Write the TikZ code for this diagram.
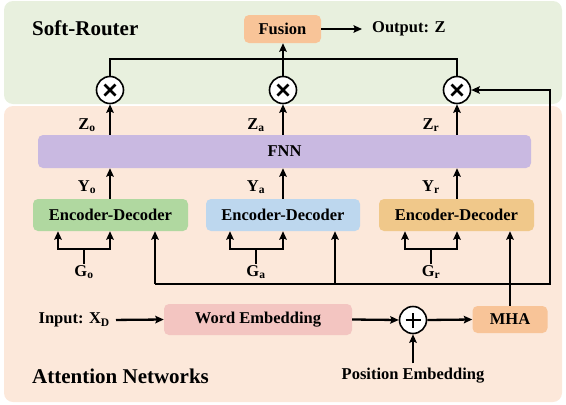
\documentclass[tikz,border=0pt]{standalone}
\usepackage{fontspec}
\setmainfont{Liberation Serif}[BoldFont={Liberation Serif Bold}]
\newfontfamily\tnr{Liberation Serif}[BoldFont={Liberation Serif Bold}]
\usetikzlibrary{arrows.meta}
\definecolor{bgG}{RGB}{232,240,222}
\definecolor{bgO}{RGB}{252,232,218}
\definecolor{peach}{RGB}{248,196,152}
\definecolor{fnnC}{RGB}{201,185,225}
\definecolor{encG}{RGB}{176,216,160}
\definecolor{encB}{RGB}{189,215,238}
\definecolor{encO}{RGB}{240,200,138}
\definecolor{weC}{RGB}{243,197,193}
\begin{document}
\begin{tikzpicture}[x=1pt,y=-1pt, font=\tnr\fontsize{16.5}{19}\selectfont\bfseries,
 box/.style={rounded corners=5pt, inner sep=0pt},
 tip/.tip={Stealth[length=8.5pt,width=7.5pt,inset=1.5pt]},
 arr/.style={line width=2.3pt, -tip},
 darr/.style={line width=2.3pt, tip-tip, line join=miter},
 ln/.style={line width=2.3pt, line join=miter},
 lbl/.style={inner sep=1pt},
 title/.style={font=\tnr\fontsize{21}{24}\selectfont\bfseries, anchor=west, inner sep=0pt},
 mult/.style={circle, draw, fill=white, line width=1.6pt, minimum size=27pt, inner sep=0pt,
   path picture={\draw[line width=2.7pt]
     ([shift={(-5.5pt,-5.5pt)}]path picture bounding box.center) -- ([shift={(5.5pt,5.5pt)}]path picture bounding box.center)
     ([shift={(-5.5pt,5.5pt)}]path picture bounding box.center) -- ([shift={(5.5pt,-5.5pt)}]path picture bounding box.center);}},
 plusc/.style={circle, draw, fill=white, line width=1.6pt, minimum size=27pt, inner sep=0pt,
   path picture={\draw[line width=2.7pt]
     ([shift={(-7.5pt,0pt)}]path picture bounding box.center) -- ([shift={(7.5pt,0pt)}]path picture bounding box.center)
     ([shift={(0pt,-7.5pt)}]path picture bounding box.center) -- ([shift={(0pt,7.5pt)}]path picture bounding box.center);}}]
\useasboundingbox (0,0) rectangle (566,405);
% backgrounds
\fill[bgG, rounded corners=9pt] (4,1) rectangle (562,104);
\fill[bgO, rounded corners=9pt] (4,106) rectangle (562,402);
% titles
\node[title] (sr) at (32,28) {Soft-Router};
\node[title] (an) at (32,376) {Attention Networks};
% top
\node[box, fill=peach, minimum width=77pt, minimum height=28pt] (fusion) at (282.5,29) {Fusion};
\node[anchor=west, inner sep=0pt] (out) at (372,29) {Output: Z};
\draw[arr, shorten >=10pt] (fusion.east) -- (out.west);
\node[mult] (c1) at (110,90) {};
\node[mult] (c2) at (283,90) {};
\node[mult] (c3) at (457,90) {};
\coordinate (top) at (0,59);
\draw[ln] (c1.north) -- (c1.north |- top) -- (c3.north |- top) -- (c3.north);
\draw[arr] (c2.north) -- (c2.north |- fusion.south);
% FNN
\node[box, fill=fnnC, minimum width=493pt, minimum height=33pt] (fnn) at (284.5,151.5) {FNN};
\draw[arr] (fnn.north -| c1) -- (c1.south);
\draw[arr] (fnn.north -| c2) -- (c2.south);
\draw[arr] (fnn.north -| c3) -- (c3.south);
\node[lbl] (z1) at (87,125) {Z\textsubscript{o}};
\node[lbl] (z2) at (256,125) {Z\textsubscript{a}};
\node[lbl] (z3) at (431,125) {Z\textsubscript{r}};
% encoders
\node[box, fill=encG, minimum width=155pt, minimum height=32pt] (e1) at (110.5,215) {Encoder-Decoder};
\node[box, fill=encB, minimum width=154pt, minimum height=32pt] (e2) at (283,215) {Encoder-Decoder};
\node[box, fill=encO, minimum width=155pt, minimum height=32pt] (e3) at (456.5,215) {Encoder-Decoder};
\draw[arr] (e1.north -| c1) -- (fnn.south -| c1);
\draw[arr] (e2.north -| c2) -- (fnn.south -| c2);
\draw[arr] (e3.north -| c3) -- (fnn.south -| c3);
\node[lbl] (y1) at (87,187) {Y\textsubscript{o}};
\node[lbl] (y2) at (256,187) {Y\textsubscript{a}};
\node[lbl] (y3) at (431,187) {Y\textsubscript{r}};
% forks
\node[lbl] (g1) at (84,272) {G\textsubscript{o}};
\node[lbl] (g2) at (256,272) {G\textsubscript{a}};
\node[lbl] (g3) at (431,272) {G\textsubscript{r}};
\coordinate (fl1) at (58,249); \coordinate (fr1) at (110,249);
\coordinate (fl2) at (230,249); \coordinate (fr2) at (283,249);
\coordinate (fl3) at (405,249); \coordinate (fr3) at (457,249);
\draw[darr] (fl1 |- e1.south) -- (fl1) -- (fr1) -- (fr1 |- e1.south);
\draw[darr] (fl2 |- e2.south) -- (fl2) -- (fr2) -- (fr2 |- e2.south);
\draw[darr] (fl3 |- e3.south) -- (fl3) -- (fr3) -- (fr3 |- e3.south);
\draw[ln] (g1.north) -- (g1.north |- fl1);
\draw[ln] (g2.north) -- (g2.north |- fl2);
\draw[ln] (g3.north) -- (g3.north |- fl3);
% bottom row
\node[anchor=east, inner sep=0pt] (inp) at (110,320) {Input: X\textsubscript{D}};
\node[box, fill=weC, minimum width=188pt, minimum height=31pt] (we) at (258,319.5) {Word Embedding};
\node[plusc] (pl) at (413,320) {};
\node[box, fill=peach, minimum width=75pt, minimum height=27pt] (mha) at (510,319.5) {MHA};
\node[inner sep=0pt] (pos) at (413,376) {Position Embedding};
\draw[arr, shorten <=6pt] (inp.east) -- (we.west);
\draw[arr] (we.east) -- (pl.west);
\draw[arr] (pl.east) -- (mha.west);
\draw[arr, shorten <=5pt] (pos.north) -- (pl.south);
% bus
\coordinate (bL) at (155,284);
\coordinate (bM) at (335,284);
\coordinate (bR) at (550,284);
\draw[arr] (bL) -- (bL |- e1.south);
\draw[arr] (bM) -- (bM |- e2.south);
\draw[arr] (bL) -- (bR) |- (c3.east);
\draw[arr] (mha.north) -- (mha.north |- e3.south);
\end{tikzpicture}
\end{document}
